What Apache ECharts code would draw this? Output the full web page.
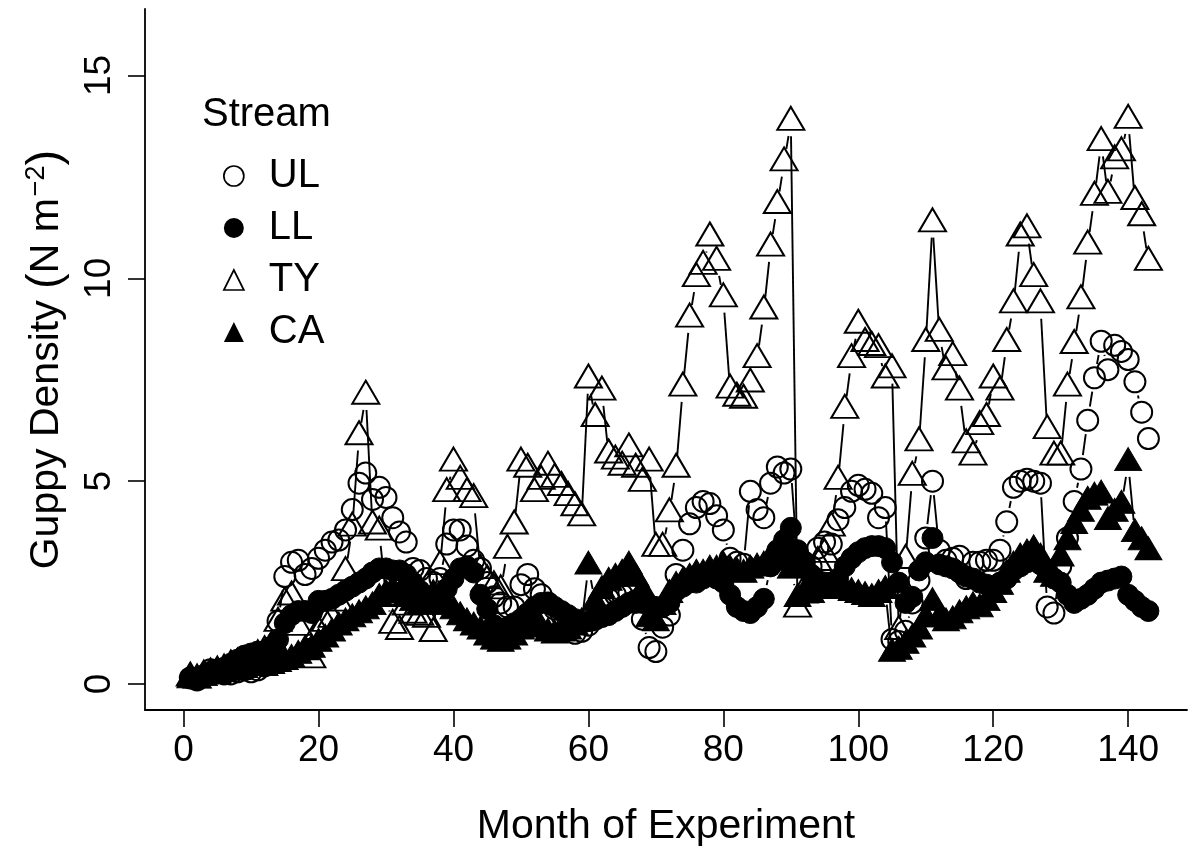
<!DOCTYPE html>
<html>
<head>
<meta charset="utf-8">
<title>Guppy Density</title>
<script src="https://cdn.jsdelivr.net/npm/echarts@6/dist/echarts.min.js"></script>
<style>
  html, body { margin: 0; padding: 0; background: #fff; }
  #chart { width: 1189px; height: 848px; }
</style>
</head>
<body>
<div id="chart"></div>
<script>
// Month index of each survey (1..143)
const months = Array.from({ length: 143 }, (_, i) => i + 1);

// Guppy density per stream, N per square metre
const UL = [
  0.15, 0.1, 0.2, 0.35, 0.3, 0.25, 0.25, 0.3, 0.35, 0.3,
  0.35, 0.45, 0.9, 1.55, 2.65, 3.0, 3.05, 2.7, 2.85, 3.1,
  3.3, 3.5, 3.55, 3.8, 4.3, 4.95, 5.2, 4.55, 4.85, 4.6,
  4.1, 3.75, 3.5, 2.85, 2.8, 2.6, 2.5, 2.6, 3.45, 3.8,
  3.8, 3.4, 3.05, 2.85, 2.5, 2.15, 2.0, 1.9, 1.9, 2.45,
  2.7, 2.35, 2.2, 2.0, 1.85, 1.7, 1.5, 1.25, 1.3, 1.45,
  1.6, 1.9, 2.1, 2.2, 2.2, 2.25, 2.05, 1.6, 0.9, 0.8,
  1.4, 1.7, 2.7, 3.3, 3.95, 4.35, 4.5, 4.45, 4.15, 3.8,
  3.1, 3.0, 2.95, 4.75, 4.3, 4.1, 4.95, 5.35, 5.2, 5.3,
  3.05, 3.0, 2.9, 3.35, 3.5, 3.45, 4.05, 4.35, 4.75, 4.9,
  4.8, 4.7, 4.1, 4.35, 1.1, 1.05, 1.3, 2.0, 2.55, 3.6,
  5.0, 3.3, 3.05, 3.1, 3.15, 2.6, 3.0, 3.0, 3.05, 3.05,
  3.3, 4.0, 4.85, 5.0, 5.05, 5.0, 4.95, 1.9, 1.75, 2.9,
  3.6, 4.5, 5.3, 6.5, 7.55, 8.45, 7.75, 8.35, 8.2, 8.0,
  7.45, 6.7, 6.05
];
const LL = [
  0.15, 0.1, 0.2, 0.3, 0.35, 0.4, 0.5, 0.6, 0.7, 0.75,
  0.8, 0.8, 0.9, 1.1, 1.5, 1.7, 1.8, 1.8, 1.75, 2.05,
  2.05, 2.1, 2.2, 2.3, 2.4, 2.5, 2.6, 2.75, 2.85, 2.85,
  2.8, 2.8, 2.7, 2.5, 2.3, 2.1, 2.0, 2.1, 2.35, 2.6,
  2.85, 2.9, 2.75, 2.2, 1.85, 1.45, 1.35, 1.4, 1.5, 1.6,
  1.75, 1.9, 2.0, 2.0, 1.9, 1.8, 1.7, 1.6, 1.5, 1.55,
  1.6, 1.65, 1.7, 1.8, 1.9, 2.0, 2.0, 2.0, 1.95, 1.9,
  1.9, 2.0, 2.3, 2.4, 2.5, 2.5, 2.6, 2.7, 2.6, 2.5,
  2.2, 1.9, 1.8, 1.75, 1.9, 2.1, 2.9, 3.3, 3.55, 3.85,
  3.3, 3.0, 2.7, 2.55, 2.5, 2.5, 2.6, 2.9, 3.1, 3.25,
  3.35, 3.4, 3.4, 3.35, 3.0, 2.5, 2.0, 2.15, 2.8, 3.0,
  3.6, 2.95, 2.9, 2.85, 2.75, 2.65, 2.6, 2.5, 2.45, 2.4,
  2.5, 2.6, 2.8, 2.9, 3.0, 3.05, 2.95, 2.8, 2.6, 2.5,
  2.2, 2.0, 2.1, 2.2, 2.35, 2.5, 2.55, 2.6, 2.65, 2.2,
  2.05, 1.9, 1.8
];
const TY = [
  0.15, 0.1, 0.2, 0.25, 0.3, 0.35, 0.45, 0.5, 0.55, 0.6,
  0.7, 0.8, 0.9, 1.5, 2.0, 2.15, 1.4, 0.8, 0.6, 1.3,
  1.5, 1.6, 2.0, 2.75, 3.85, 6.1, 7.1, 3.9, 3.75, 2.15,
  1.45, 1.3, 1.9, 1.7, 1.65, 1.6, 1.25, 2.9, 4.7, 5.45,
  5.0, 4.7, 4.55, 2.8, 2.55, 2.4, 2.3, 3.3, 3.9, 5.45,
  5.3, 4.7, 5.0, 5.35, 5.05, 4.85, 4.6, 4.35, 4.1, 7.5,
  6.55, 7.2, 5.65, 5.5, 5.35, 5.8, 5.3, 4.95, 5.45, 3.35,
  3.35, 4.2, 5.3, 7.3, 9.0, 10.0, 10.3, 11.0, 10.4, 9.5,
  7.25, 7.05, 7.0, 7.4, 8.0, 9.2, 10.75, 11.8, 12.85, 13.85,
  1.85, 2.2, 2.6, 3.0, 3.2, 3.85, 5.0, 6.75, 8.0, 8.85,
  8.4, 8.3, 8.25, 7.5, 7.75, 1.3, 3.05, 5.1, 5.95, 8.4,
  11.35, 8.65, 7.7, 8.05, 7.2, 5.9, 5.6, 6.35, 6.55, 7.5,
  7.2, 8.4, 9.35, 11.0, 11.2, 10.0, 9.35, 6.25, 5.6, 5.6,
  7.3, 8.35, 9.45, 10.8, 12.0, 13.35, 12.05, 12.9, 13.1, 13.9,
  11.9, 11.5, 10.4
];
const CA = [
  0.1, 0.1, 0.15, 0.2, 0.2, 0.25, 0.3, 0.3, 0.35, 0.4,
  0.45, 0.4, 0.45, 0.5, 0.55, 0.6, 0.7, 0.8, 0.85, 1.0,
  1.1, 1.25, 1.4, 1.5, 1.6, 1.7, 1.8, 1.9, 2.1, 2.2,
  2.3, 2.2, 2.1, 2.0, 1.9, 2.0, 2.2, 2.1, 1.9, 1.8,
  1.65, 1.5, 1.4, 1.3, 1.15, 1.05, 1.0, 1.05, 1.15, 1.3,
  1.4, 1.45, 1.35, 1.25, 1.2, 1.25, 1.3, 1.4, 1.5, 2.9,
  2.0, 2.3, 2.5, 2.6, 2.7, 2.9, 2.6, 2.3, 1.6, 1.5,
  1.9, 2.2, 2.4, 2.5, 2.6, 2.7, 2.7, 2.8, 2.8, 2.9,
  2.8, 2.75, 2.7, 2.8, 2.85, 2.9, 3.1, 3.2, 3.0, 2.8,
  2.1, 2.2, 2.2, 2.3, 2.35, 2.4, 2.3, 2.3, 2.25, 2.2,
  2.15, 2.1, 2.2, 2.3, 0.75, 0.8, 0.95, 1.1, 1.3, 1.6,
  2.0, 1.6, 1.5, 1.55, 1.7, 1.8, 1.9, 1.85, 2.0, 2.2,
  2.4, 2.7, 2.9, 3.1, 3.2, 3.3, 3.1, 2.7, 2.6, 3.1,
  3.5, 3.9, 4.2, 4.5, 4.6, 4.65, 4.0, 4.2, 4.4, 5.45,
  3.7, 3.5, 3.25
];

// Axis ticks
const xTicks = [0, 20, 40, 60, 80, 100, 120, 140];
const yTicks = [0, 5, 10, 15];

const FONT = '"Liberation Sans", Arial, sans-serif';
const INK = '#000';

const chart = echarts.init(document.getElementById('chart'), null, { renderer: 'canvas' });

// Point pairs for the connecting segments of each stream
function segments(vals) {
  const out = [];
  for (let i = 0; i < months.length - 1; i++) {
    out.push([months[i], vals[i], months[i + 1], vals[i + 1]]);
  }
  return out;
}

// Segments stop short of each point, leaving a gap around the symbol
const GAP = 14;
function renderSegment(params, api) {
  const p1 = api.coord([api.value(0), api.value(1)]);
  const p2 = api.coord([api.value(2), api.value(3)]);
  const dx = p2[0] - p1[0];
  const dy = p2[1] - p1[1];
  const len = Math.sqrt(dx * dx + dy * dy);
  if (len <= 2 * GAP + 1) return null;
  const ux = dx / len, uy = dy / len;
  return {
    type: 'line',
    shape: {
      x1: p1[0] + ux * GAP, y1: p1[1] + uy * GAP,
      x2: p2[0] - ux * GAP, y2: p2[1] - uy * GAP
    },
    style: { stroke: INK, lineWidth: 1.9 }
  };
}

function lineSeries(name, vals) {
  return {
    name: name + ' line',
    type: 'custom',
    renderItem: renderSegment,
    data: segments(vals),
    encode: { x: [0, 2], y: [1, 3] },
    silent: true
  };
}

function pointSeries(name, vals, symbol, filled) {
  const isTri = symbol === 'triangle';
  return {
    name: name,
    type: 'scatter',
    data: months.map((m, i) => [m, vals[i]]),
    symbol: symbol,
    symbolSize: isTri ? [27, 23] : 21,
    symbolOffset: isTri ? [0, -3.8] : [0, 0],
    itemStyle: filled
      ? { color: INK, borderColor: INK, borderWidth: 1, opacity: 1 }
      : { color: 'transparent', borderColor: INK, borderWidth: 2, opacity: 1 },
    emphasis: { disabled: true },
    silent: true
  };
}

const option = {
  animation: false,
  backgroundColor: '#fff',
  textStyle: { fontFamily: FONT, color: INK },
  grid: { left: 145, right: 2, top: 9, bottom: 138, containLabel: false, outerBoundsMode: 'none' },
  title: {
    text: 'Stream',
    left: 197,
    top: 90,
    textStyle: { fontFamily: FONT, fontSize: 40, fontWeight: 'normal', color: INK }
  },
  legend: {
    orient: 'vertical',
    left: 218,
    top: 148,
    itemWidth: 20,
    itemHeight: 20,
    itemGap: 6,
    selectedMode: false,
    textStyle: { fontFamily: FONT, fontSize: 40, color: INK, lineHeight: 46, padding: [0, 0, 0, 20] },
    data: [
      { name: 'UL', icon: 'circle', itemStyle: { color: 'transparent', borderColor: INK, borderWidth: 1.7, opacity: 1 } },
      { name: 'LL', icon: 'circle', itemStyle: { color: INK, borderColor: INK, borderWidth: 0, opacity: 1 } },
      { name: 'TY', icon: 'triangle', itemStyle: { color: 'transparent', borderColor: INK, borderWidth: 1.7, opacity: 1 } },
      { name: 'CA', icon: 'triangle', itemStyle: { color: INK, borderColor: INK, borderWidth: 0, opacity: 1 } }
    ]
  },
  xAxis: {
    type: 'value',
    min: -5.72,
    max: 148.72,
    name: 'Month of Experiment',
    nameLocation: 'middle',
    nameGap: 96,
    nameTextStyle: { fontFamily: FONT, fontSize: 41, color: INK },
    axisLine: { show: true, onZero: false, lineStyle: { color: INK, width: 1.8 } },
    axisTick: { show: true, customValues: xTicks, length: 17, lineStyle: { color: INK, width: 1.6 } },
    axisLabel: { customValues: xTicks, fontFamily: FONT, fontSize: 37, color: INK, margin: 22 },
    splitLine: { show: false }
  },
  yAxis: {
    type: 'value',
    min: -0.64,
    max: 16.64,
    name: '{t|Guppy Density }{p|(}{t|N m}{s|\u22122}{p|)}',
    nameLocation: 'middle',
    nameGap: 75,
    nameRotate: 90,
    nameTextStyle: {
      fontFamily: FONT, color: INK,
      rich: {
        t: { fontFamily: FONT, fontSize: 41, color: INK },
        p: { fontFamily: FONT, fontSize: 47, color: INK },
        s: { fontFamily: FONT, fontSize: 27, color: INK, padding: [0, 0, 20, 2] }
      }
    },
    axisLine: { show: true, onZero: false, lineStyle: { color: INK, width: 1.8 } },
    axisTick: { show: true, customValues: yTicks, length: 17, lineStyle: { color: INK, width: 1.6 } },
    axisLabel: { customValues: yTicks, rotate: 90, fontFamily: FONT, fontSize: 37, color: INK, margin: 27 },
    splitLine: { show: false }
  },
  series: [
    lineSeries('UL', UL), pointSeries('UL', UL, 'circle', false),
    lineSeries('LL', LL), pointSeries('LL', LL, 'circle', true),
    lineSeries('TY', TY), pointSeries('TY', TY, 'triangle', false),
    lineSeries('CA', CA), pointSeries('CA', CA, 'triangle', true)
  ]
};

chart.setOption(option);
</script>
</body>
</html>
